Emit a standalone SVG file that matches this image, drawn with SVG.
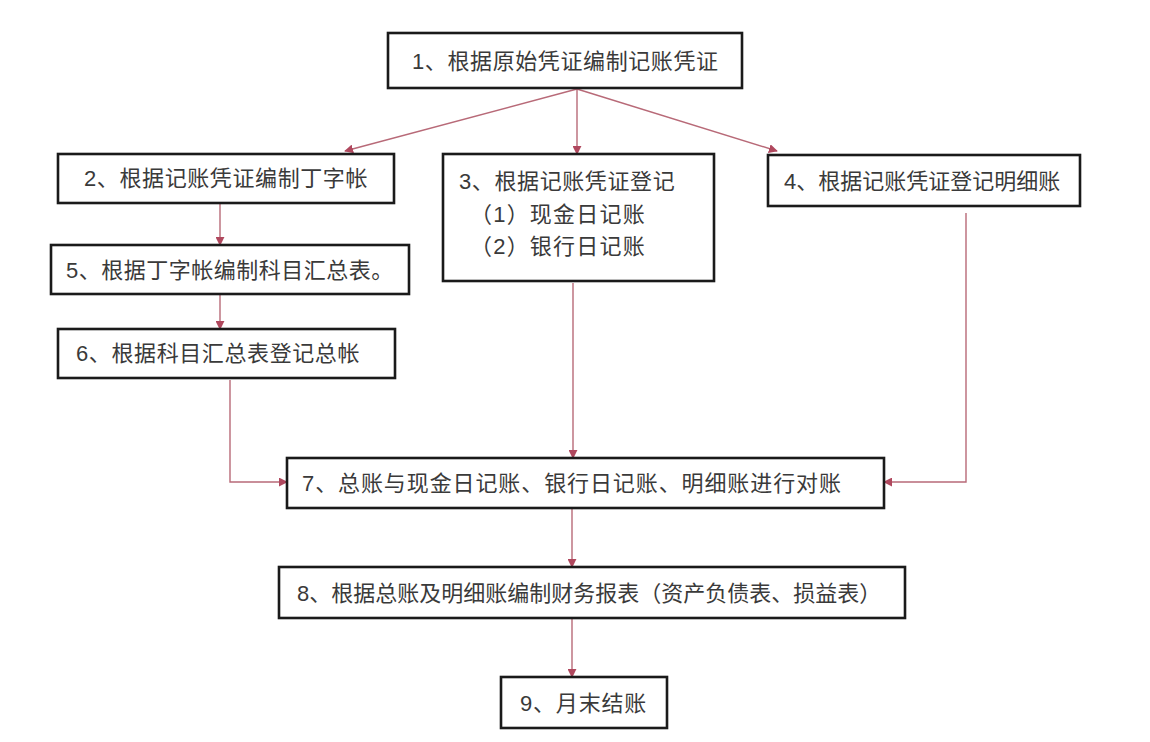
<svg xmlns="http://www.w3.org/2000/svg" width="1150" height="742" viewBox="0 0 1150 742">
<style>
.box{fill:#fff;stroke:#1a1a1a;stroke-width:2.6}
.t{font-family:"Liberation Sans","Noto Sans CJK SC",sans-serif;font-size:22px;fill:#3a3a3a}
.c{fill:none;stroke:#b86a78;stroke-width:1.4}
</style>
<defs>
<marker id="ah" viewBox="0 0 10 10" refX="9" refY="5" markerWidth="9" markerHeight="9" markerUnits="userSpaceOnUse" orient="auto">
<path d="M0,0 L10,5 L0,10 z" fill="#b0485e"/>
</marker>
</defs>
<rect width="1150" height="742" fill="#fff"/>
<g id="connectors">
<line class="c" x1="577" y1="89" x2="345" y2="151" marker-end="url(#ah)"/>
<line class="c" x1="577" y1="89" x2="577" y2="154" marker-end="url(#ah)"/>
<line class="c" x1="577" y1="89" x2="777" y2="151" marker-end="url(#ah)"/>
<line class="c" x1="220" y1="204" x2="220" y2="245" marker-end="url(#ah)"/>
<line class="c" x1="220" y1="295" x2="220" y2="329" marker-end="url(#ah)"/>
<polyline class="c" points="230,380 230,482 287,482" marker-end="url(#ah)"/>
<line class="c" x1="573" y1="283" x2="573" y2="458" marker-end="url(#ah)"/>
<polyline class="c" points="966,213 966,482 884,482" marker-end="url(#ah)"/>
<line class="c" x1="572" y1="509" x2="572" y2="567" marker-end="url(#ah)"/>
<line class="c" x1="572" y1="619" x2="572" y2="677" marker-end="url(#ah)"/>
</g>
<g id="n1"><rect class="box" x="388" y="33" width="354" height="55"/><text class="t" x="412" y="69" letter-spacing="0.6">1、根据原始凭证编制记账凭证</text></g>
<g id="n2"><rect class="box" x="58" y="154" width="336" height="49"/><text class="t" x="84" y="186" letter-spacing="0.6">2、根据记账凭证编制丁字帐</text></g>
<g id="n3"><rect class="box" x="443" y="154" width="271" height="127"/>
<text class="t" x="459" y="189" letter-spacing="0.6">3、根据记账凭证登记</text>
<text class="t" x="470" y="222" letter-spacing="1.2">（1）现金日记账</text>
<text class="t" x="470" y="254" letter-spacing="1.2">（2）银行日记账</text></g>
<g id="n4"><rect class="box" x="768" y="155" width="312" height="51"/><text class="t" x="784" y="189">4、根据记账凭证登记明细账</text></g>
<g id="n5"><rect class="box" x="51" y="245" width="358" height="49"/><text class="t" x="66" y="278" letter-spacing="0.5">5、根据丁字帐编制科目汇总表。</text></g>
<g id="n6"><rect class="box" x="58" y="329" width="337" height="49"/><text class="t" x="76" y="361" letter-spacing="0.6">6、根据科目汇总表登记总帐</text></g>
<g id="n7"><rect class="box" x="287" y="458" width="597" height="50"/><text class="t" x="302" y="491" letter-spacing="0.9">7、总账与现金日记账、银行日记账、明细账进行对账</text></g>
<g id="n8"><rect class="box" x="279" y="567" width="626" height="51"/><text class="t" x="297" y="601">8、根据总账及明细账编制财务报表（资产负债表、损益表）</text></g>
<g id="n9"><rect class="box" x="501" y="677" width="166" height="51"/><text class="t" x="520" y="711" letter-spacing="0.8">9、月末结账</text></g>
</svg>
